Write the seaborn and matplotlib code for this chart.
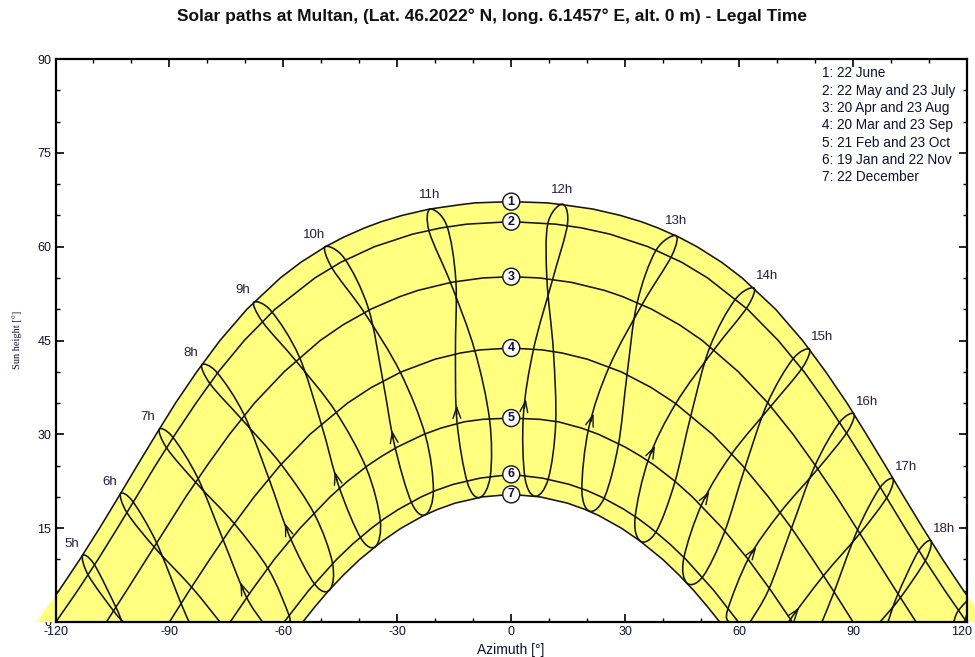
import pandas as pd                 # table of the date curves for seaborn
import matplotlib
matplotlib.use('Agg')
import matplotlib.pyplot as plt     # figure and annotations
import matplotlib.transforms as mtransforms
from matplotlib.path import Path
from matplotlib.patches import PathPatch
import seaborn as sns               # line drawing

# Global constants
DPI = 100
YELLOW = '#ffff80'
LINE = '#151515'
TEXT = '#101030'

TITLE = 'Solar paths at Multan, (Lat. 46.2022° N, long. 6.1457° E, alt. 0 m) - Legal Time'
LEGEND_LINES = ['1: 22 June', '2: 22 May and 23 July', '3: 20 Apr and 23 Aug',
                '4: 20 Mar and 23 Sep', '5: 21 Feb and 23 Oct', '6: 19 Jan and 22 Nov',
                '7: 22 December']

X_TICKS = [-120, -90, -60, -30, 0, 30, 60, 90, 120]
Y_TICKS = [0, 15, 30, 45, 60, 75, 90]

# Date curves: azimuth from south (one side) and sun height, mirrored for the afternoon
CURVE_AZ = {
    1: [0, 9.5, 13.6, 21.6, 28.7, 34.2, 38.6, 44.2, 48.9, 55.4, 60.8, 69.6, 76.7, 82.8,
        88.4, 93.5, 98.5, 103.4, 108.4, 113.6, 119.1, 125.1],
    2: [0, 11.7, 18.5, 26.0, 36.0, 44.9, 51.7, 62.2, 70.3, 77.1, 83.0, 88.5, 93.7, 98.7,
        103.7, 108.8, 114.2, 119.9],
    3: [0, 7.4, 15.8, 24.6, 29.4, 37.0, 44.3, 50.3, 59.8, 67.6, 74.2, 80.1, 85.7, 90.9,
        96.1, 101.3, 106.6],
    4: [0, 8.1, 13.4, 20.1, 28.9, 36.8, 43.1, 53.0, 60.9, 67.7, 73.8, 79.4, 84.8, 90.0],
    5: [0, 7.5, 12.4, 18.5, 23.0, 29.9, 34.1, 37.8, 43.1, 47.7, 55.6, 62.4, 68.4, 74.0],
    6: [0, 8.2, 15.3, 20.0, 23.7, 29.7, 33.5, 36.8, 41.7, 46.0, 53.4, 59.8],
    7: [0, 7.6, 14.8, 19.4, 23.1, 29.0, 33.8, 39.9, 44.2, 48.1, 51.6, 54.9],
}
CURVE_ALT = {
    1: [67.2, 67.0, 66.7, 66.0, 65.0, 64.0, 63.0, 61.5, 60.0, 57.5, 55.0, 50.0, 45.0, 40.0,
        35.0, 30.0, 25.0, 20.0, 15.0, 10.0, 5.0, 0.0],
    2: [64.0, 63.6, 63.0, 62.0, 60.0, 57.5, 55.0, 50.0, 45.0, 40.0, 35.0, 30.0, 25.0, 20.0,
        15.0, 10.0, 5.0, 0.0],
    3: [55.2, 55.0, 54.3, 53.0, 52.0, 50.0, 47.5, 45.0, 40.0, 35.0, 30.0, 25.0, 20.0, 15.0,
        10.0, 5.0, 0.0],
    4: [43.8, 43.5, 43.0, 42.0, 40.0, 37.5, 35.0, 30.0, 25.0, 20.0, 15.0, 10.0, 5.0, 0.0],
    5: [32.6, 32.4, 32.0, 31.0, 30.0, 28.0, 26.5, 25.0, 22.5, 20.0, 15.0, 10.0, 5.0, 0.0],
    6: [23.6, 23.0, 22.0, 21.0, 20.0, 18.0, 16.5, 15.0, 12.5, 10.0, 5.0, 0.0],
    7: [20.4, 20.0, 19.0, 18.0, 17.0, 15.0, 13.0, 10.0, 7.5, 5.0, 2.5, 0.0],
}

# Sun position at each legal hour on the dates of the curves (None = below horizon)
DATES = ['22 Dec', '19 Jan', '21 Feb', '20 Mar', '20 Apr', '22 May',
         '22 Jun', '23 Jul', '23 Aug', '23 Sep', '23 Oct', '22 Nov']
HOUR_AZ = {
    5: [None, None, None, None, -104.2, -109.9, -112.9, -111.3, -104.5, None, None, None],
    6: [None, None, None, -86.9, -93.5, -99.7, -102.9, -101.1, -93.9, -84.2, None, None],
    7: [None, None, -69.9, -75.9, -82.6, -89.2, -92.7, -90.6, -82.9, -72.9, -63.9, -58.6],
    8: [-47.7, -51.7, -58.3, -63.8, -70.4, -77.5, -81.5, -79.2, -70.8, -60.6, -51.8, -47.1],
    9: [-35.7, -39.6, -45.4, -50.0, -55.9, -63.2, -67.8, -65.4, -56.5, -46.2, -38.1, -34.5],
    10: [-22.5, -26.2, -30.7, -33.8, -37.6, -43.9, -49.0, -47.1, -38.5, -29.2, -22.6, -20.5],
    11: [-8.3, -11.6, -14.3, -14.7, -14.6, -17.0, -21.4, -21.6, -15.9, -9.6, -5.7, -5.5],
    12: [6.4, 3.6, 3.2, 5.9, 11.0, 14.8, 13.4, 9.6, 9.4, 11.1, 11.7, 9.8],
    13: [20.7, 18.6, 20.4, 25.8, 34.6, 42.3, 43.3, 38.0, 33.1, 30.5, 28.2, 24.6],
    14: [34.1, 32.6, 36.2, 43.3, 53.6, 62.1, 63.9, 58.9, 52.2, 47.3, 43.0, 38.2],
    15: [46.3, 45.4, 50.3, 58.1, 68.5, 76.6, 78.5, 74.1, 67.4, 61.5, 56.1, 50.5],
    16: [None, 57.0, 62.6, 70.8, 80.9, 88.5, 90.2, 86.3, 79.9, 73.8, 67.8, None],
    17: [None, None, 73.8, 82.2, 92.0, 99.0, 100.5, 97.0, 91.1, 85.0, None, None],
    18: [None, None, None, None, 102.6, 109.2, 110.5, 107.2, 101.7, None, None, None],
    19: [None, None, None, None, None, 119.6, 120.7, 117.6, None, None, None, None],
}
HOUR_ALT = {
    5: [None, None, None, None, 2.5, 9.3, 10.6, 7.4, 1.6, None, None, None],
    6: [None, None, None, 2.9, 12.8, 19.3, 20.5, 17.4, 11.9, 5.6, None, None],
    7: [None, None, 4.2, 13.2, 23.1, 29.6, 30.8, 27.7, 22.2, 15.7, 8.4, 1.2],
    8: [5.2, 6.0, 13.6, 22.9, 33.2, 39.9, 41.1, 38.0, 32.3, 25.2, 17.2, 9.5],
    9: [12.1, 13.4, 21.7, 31.6, 42.5, 49.7, 51.1, 47.9, 41.6, 33.6, 24.5, 16.3],
    10: [17.2, 19.0, 28.2, 38.6, 50.1, 58.1, 60.0, 56.5, 49.3, 39.9, 29.8, 21.1],
    11: [19.9, 22.4, 32.1, 42.8, 54.7, 63.4, 66.0, 62.4, 54.1, 43.4, 32.3, 23.4],
    12: [20.1, 23.1, 33.1, 43.7, 55.0, 63.6, 66.8, 63.6, 54.7, 43.3, 31.8, 23.0],
    13: [17.7, 21.1, 31.0, 40.8, 50.9, 58.6, 61.8, 59.3, 50.9, 39.6, 28.3, 20.0],
    14: [12.9, 16.6, 26.1, 34.9, 43.7, 50.3, 53.4, 51.5, 43.8, 33.0, 22.2, 14.5],
    15: [6.2, 10.1, 19.0, 26.9, 34.6, 40.6, 43.6, 42.0, 34.9, 24.6, 14.3, 7.3],
    16: [None, 2.0, 10.3, 17.5, 24.6, 30.4, 33.3, 31.8, 24.9, 15.0, 5.2, None],
    17: [None, None, 0.7, 7.4, 14.3, 20.0, 22.9, 21.4, 14.6, 4.8, None, None],
    18: [None, None, None, None, 4.0, 10.0, 13.0, 11.3, 4.3, None, None, None],
    19: [None, None, None, None, None, 0.5, 3.6, 1.7, None, None, None, None],
}
# Azimuths where the partial hour lines meet the horizon (rising side, setting side)
HORIZON_AZ = {5: (-102.5, -102.1), 6: (-84.8, -76.7), 7: (-65.5, -58.6),
              16: (57.2, 62.9), 17: (73.3, 81.8), 18: (97.1, 99.2), 19: (119.1, 116.5)}
LABELLED_HOURS = list(range(5, 19))


def date_curve(k):
    """Full curve from sunrise to sunset, built from the half table."""
    az, alt = CURVE_AZ[k], CURVE_ALT[k]
    xs = [-a for a in az[::-1]] + az[1:]
    ys = alt[::-1] + alt[1:]
    return xs, ys


def hour_points(h):
    """Hour line points in date order; closed loop, or horizon to horizon."""
    az, alt = HOUR_AZ[h], HOUR_ALT[h]
    n = len(DATES)
    if all(a is not None for a in az):
        return list(zip(az, alt)), True
    start = next(i for i in range(n) if az[i] is not None and az[i - 1] is None)
    pts = [(HORIZON_AZ[h][0], 0.0)]
    i = start
    while az[i % n] is not None:
        pts.append((az[i % n], alt[i % n]))
        i += 1
    pts.append((HORIZON_AZ[h][1], 0.0))
    return pts, False


def smooth_path(pts, closed):
    """Bezier path through the points (Catmull-Rom tangents) so loops draw round."""
    n = len(pts)
    if closed:
        def get(i):
            return pts[i % n]
        segs = range(n)
    else:
        def get(i):
            return pts[min(max(i, 0), n - 1)]
        segs = range(n - 1)
    verts = [get(0)]
    codes = [Path.MOVETO]
    for i in segs:
        p0, p1, p2, p3 = get(i - 1), get(i), get(i + 1), get(i + 2)
        c1 = (p1[0] + (p2[0] - p0[0]) / 6, p1[1] + (p2[1] - p0[1]) / 6)
        c2 = (p2[0] - (p3[0] - p1[0]) / 6, p2[1] - (p3[1] - p1[1]) / 6)
        verts += [c1, c2, p2]
        codes += [Path.CURVE4] * 3
    return Path(verts, codes)


# Date curves in one DataFrame
rows = []
for k in CURVE_AZ:
    xs, ys = date_curve(k)
    rows += [{'curve': k, 'Azimuth': x, 'Height': y} for x, y in zip(xs, ys)]
curves_df = pd.DataFrame(rows)

sns.set_theme(style='ticks')
plt.rcParams['font.family'] = ['Liberation Sans', 'DejaVu Sans']
plt.rcParams['axes.unicode_minus'] = False

fig = plt.figure(figsize=(975 / DPI, 657 / DPI), dpi=DPI)
ax = fig.add_axes([55.5 / 975, 1 - 622 / 657, 911.5 / 975, 563 / 657])

# Yellow band between the summer and winter curves
x1, y1 = date_curve(1)
x7, y7 = date_curve(7)
ax.fill(x1 + x7[::-1], y1 + y7[::-1], color=YELLOW, lw=0, zorder=1, clip_on=False)

sns.lineplot(data=curves_df, x='Azimuth', y='Height', units='curve', estimator=None,
             sort=False, color=LINE, linewidth=1.15, legend=False, ax=ax, zorder=2)

# Hour lines (analemmas)
for h in HOUR_AZ:
    pts, closed = hour_points(h)
    ax.add_patch(PathPatch(smooth_path(pts, closed), fill=False, ec=LINE, lw=1.15, zorder=2))

# Direction arrows between 21 Feb and 20 Mar
for h in HOUR_AZ:
    a0, a1 = HOUR_AZ[h][2], HOUR_AZ[h][3]
    if a0 is None or a1 is None:
        continue
    b0, b1 = HOUR_ALT[h][2], HOUR_ALT[h][3]
    tip = (a0 + 0.24 * (a1 - a0), b0 + 0.24 * (b1 - b0))
    tail = (a0 + 0.10 * (a1 - a0), b0 + 0.10 * (b1 - b0))
    ax.annotate('', xy=tip, xytext=tail, zorder=3,
                arrowprops=dict(arrowstyle='->,head_length=0.8,head_width=0.28',
                                color=LINE, lw=1.0, shrinkA=0, shrinkB=0,
                                mutation_scale=10))

# Hour labels at the 22 June point of each line
for h in LABELLED_HOURS:
    pos = (HOUR_AZ[h][6], HOUR_ALT[h][6])
    if h <= 10:
        off = (-11, 12)
    elif h <= 13:
        off = (0, 14)
    else:
        off = (13, 12)
    ax.annotate('%dh' % h, xy=pos, xytext=off, textcoords='offset pixels',
                ha='center', va='center', fontsize=9.5, color='#2a1a3a', zorder=4)

# Numbered badges on the date curves
for k in CURVE_AZ:
    ax.text(0, CURVE_ALT[k][0], str(k), ha='center', va='center', fontsize=9,
            fontweight='bold', color=TEXT, zorder=5,
            bbox=dict(boxstyle='circle,pad=0.2', fc='white', ec=LINE, lw=1.0))

# Legend block
ax.text(0.841, 0.987, '\n'.join(LEGEND_LINES), transform=ax.transAxes, ha='left', va='top',
        fontsize=9.8, linespacing=1.3, color=TEXT, zorder=5)

ax.set_xlim(-120, 120)
ax.set_ylim(0, 90)
ax.set_xticks(X_TICKS)
ax.set_yticks(Y_TICKS)
ax.set_xticks(range(-120, 121, 10), minor=True)
ax.set_yticks(range(0, 91, 5), minor=True)
ax.tick_params(which='both', direction='in', top=True, right=True, colors='black',
               labelsize=9, labelcolor=TEXT, pad=3)
ax.tick_params(which='major', length=6, width=1.2)
ax.tick_params(which='minor', length=3, width=1.0)
for sp in ax.spines.values():
    sp.set_color('black')
    sp.set_linewidth(1.6)
    sp.set_zorder(6)
ax.set_xlabel('')
ax.set_ylabel('')

# Keep the last azimuth label inside the picture
last_label = ax.get_xticklabels()[-1]
last_label.set_transform(last_label.get_transform() +
                         mtransforms.Affine2D().translate(-5, 0))

fig.text(511 / 975, 1 - 650 / 657, 'Azimuth [°]', ha='center', va='center', fontsize=10,
         color=TEXT)
fig.text(17 / 975, 1 - 340 / 657, 'Sun height [°]', ha='center', va='center', rotation=90,
         fontsize=7.5, family=['Liberation Serif', 'DejaVu Serif'], color=TEXT)
fig.text(492 / 975, 1 - 16 / 657, TITLE, ha='center', va='center', fontsize=12.5,
         fontweight='bold', color='#101010')

fig.savefig('out.png', dpi=DPI)
